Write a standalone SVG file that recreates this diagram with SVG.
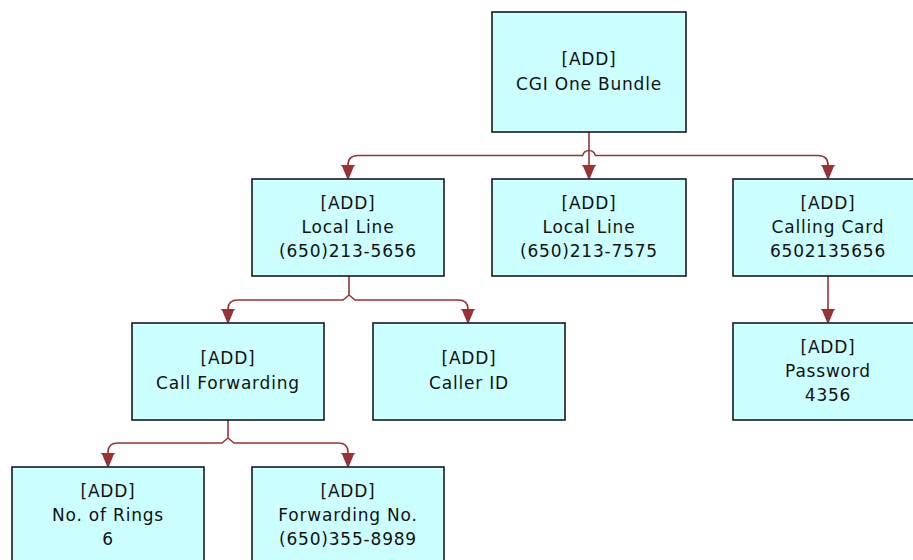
<svg xmlns="http://www.w3.org/2000/svg" width="913" height="560" viewBox="0 0 913 560">
<style>
.box{fill:#CCFFFF;stroke:#1a1a1a;stroke-width:1.6}
.t{font-family:"DejaVu Sans","Liberation Sans",sans-serif;font-size:17px;letter-spacing:0.8px;fill:#111;text-anchor:middle}
.c{fill:none;stroke:#993333;stroke-width:1.6}
</style>
<defs>
<marker id="arr" markerUnits="userSpaceOnUse" markerWidth="16" markerHeight="16" viewBox="0 -7 13 14" refX="12" refY="0" orient="auto">
<path d="M0,-5 L0,5 L12,0 Z" fill="#993333" stroke="#993333" stroke-width="1"/>
<path d="M0,-6 V6" stroke="#993333" stroke-width="1.5"/>
</marker>
</defs>
<rect width="913" height="560" fill="#ffffff"/>
<g id="connectors">
<path class="c" d="M589,132 V179" marker-end="url(#arr)"/>
<path class="c" d="M583,155.5 A6,5 0 0 1 595,155.5"/>
<path class="c" d="M583,155.5 H358 Q348,155.5 348,165 V179" marker-end="url(#arr)"/>
<path class="c" d="M595,155.5 H818 Q828,155.5 828,165 V179" marker-end="url(#arr)"/>
<path class="c" d="M349,276 V295 L343,300 H238 Q228,300 228,309 V323" marker-end="url(#arr)"/>
<path class="c" d="M349,295 L355,300 H458 Q468,300 468,309 V323" marker-end="url(#arr)"/>
<path class="c" d="M828,276 V323" marker-end="url(#arr)"/>
<path class="c" d="M228,420 V438 L222,443 H118 Q108,443 108,452 V467" marker-end="url(#arr)"/>
<path class="c" d="M228,438 L234,443 H338 Q348,443 348,452 V467" marker-end="url(#arr)"/>
</g>
<g id="n_root">
<rect class="box" x="492" y="12" width="194" height="120"/>
<text class="t" x="589" y="65">[ADD]</text>
<text class="t" x="589" y="90">CGI One Bundle</text>
</g>
<g id="n_local1">
<rect class="box" x="252" y="179" width="192" height="97"/>
<text class="t" x="348" y="209">[ADD]</text>
<text class="t" x="348" y="233">Local Line</text>
<text class="t" x="348" y="257">(650)213-5656</text>
</g>
<g id="n_local2">
<rect class="box" x="492" y="179" width="194" height="97"/>
<text class="t" x="589" y="209">[ADD]</text>
<text class="t" x="589" y="233">Local Line</text>
<text class="t" x="589" y="257">(650)213-7575</text>
</g>
<g id="n_card">
<rect class="box" x="733" y="179" width="192" height="97"/>
<text class="t" x="828" y="209">[ADD]</text>
<text class="t" x="828" y="233">Calling Card</text>
<text class="t" x="828" y="257">6502135656</text>
</g>
<g id="n_fwd">
<rect class="box" x="132" y="323" width="192" height="97"/>
<text class="t" x="228" y="364">[ADD]</text>
<text class="t" x="228" y="389">Call Forwarding</text>
</g>
<g id="n_callerid">
<rect class="box" x="373" y="323" width="192" height="97"/>
<text class="t" x="469" y="364">[ADD]</text>
<text class="t" x="469" y="389">Caller ID</text>
</g>
<g id="n_password">
<rect class="box" x="733" y="323" width="192" height="97"/>
<text class="t" x="828" y="353">[ADD]</text>
<text class="t" x="828" y="377">Password</text>
<text class="t" x="828" y="401">4356</text>
</g>
<g id="n_rings">
<rect class="box" x="12" y="467" width="192" height="100"/>
<text class="t" x="108" y="497">[ADD]</text>
<text class="t" x="108" y="521">No. of Rings</text>
<text class="t" x="108" y="545">6</text>
</g>
<g id="n_fwdno">
<rect class="box" x="252" y="467" width="192" height="100"/>
<text class="t" x="348" y="497">[ADD]</text>
<text class="t" x="348" y="521">Forwarding No.</text>
<text class="t" x="348" y="545">(650)355-8989</text>
</g>
</svg>
